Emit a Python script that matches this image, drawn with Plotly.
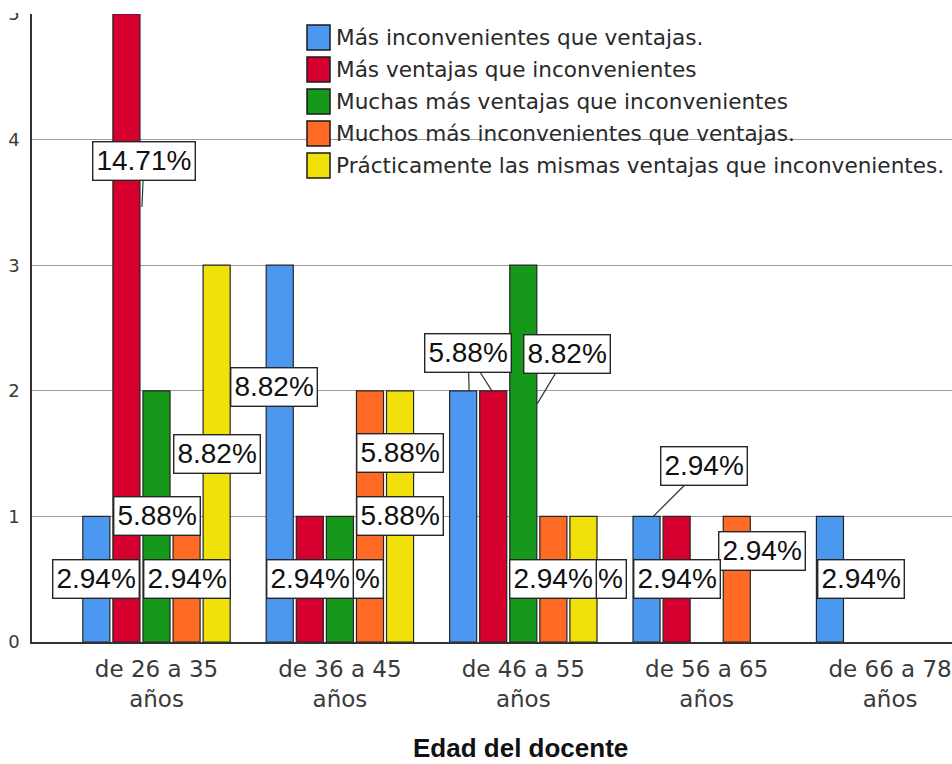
import plotly.graph_objects as go

# ---------------- data ----------------
categories = ["de 26 a 35<br>años", "de 36 a 45<br>años", "de 46 a 55<br>años",
              "de 56 a 65<br>años", "de 66 a 78<br>años"]
series_names = ["Más inconvenientes que ventajas.",
                "Más ventajas que inconvenientes",
                "Muchas más ventajas que inconvenientes",
                "Muchos más inconvenientes que ventajas.",
                "Prácticamente las mismas ventajas que inconvenientes."]
mas_inconvenientes = [1, 3, 2, 1, 1]
mas_ventajas = [5, 1, 2, 1, 0]
muchas_mas_ventajas = [2, 1, 3, 0, 0]
muchos_mas_inconvenientes = [1, 2, 1, 1, 0]
practicamente_iguales = [3, 2, 1, 0, 0]
y_tick_values = [0, 1, 2, 3, 4, 5]
x_title = "Edad del docente"

series_values = [mas_inconvenientes, mas_ventajas, muchas_mas_ventajas,
                 muchos_mas_inconvenientes, practicamente_iguales]
colors = ["#4C98F0", "#D5002E", "#16991A", "#FF6B24", "#F0E10A"]

# ---------------- layout geometry ----------------
W, H = 952, 764
ML, MR, MT, MB = 32, 0, 14, 122
PW, PH = W - ML - MR, H - MT - MB
X_UNIT = 183.4              # px per category
X0 = -(156.5 - ML) / X_UNIT
X1 = X0 + PW / X_UNIT
Y0, Y1 = 0, 5
Y_UNIT = PH / (Y1 - Y0)
BARGAP, BARGROUPGAP = 0.18, 0.1
NS = len(series_values)
SLOT = (1 - BARGAP) / NS

def px_to_paper_x(px):
    return (px - ML) / PW

def px_to_paper_y(py):
    return (MT + PH - py) / PH

total = sum(sum(s) for s in series_values)
x_pos = list(range(len(categories)))

fig = go.Figure()
for name, vals, col in zip(series_names, series_values, colors):
    fig.add_trace(go.Bar(
        x=x_pos, y=[v if v else None for v in vals], name=name,
        marker=dict(color=col, line=dict(color="#262626", width=1.2)),
        showlegend=False, hoverinfo="skip"))

# ---------------- percentage labels ----------------
# pixel offsets of the label box from the bar midpoint; optional leader target
label_offsets = {
    (1, 0): dict(dx=17.5, dy=-167, tx=15.5, ty=-121),
    (0, 1): dict(dx=-6, dy=-67),
    (3, 1): dict(dx=30, dy=-63),
    (0, 2): dict(dx=5, dy=-163, tx=6, ty=-125),
    (1, 2): dict(dx=-25, dy=-163, tx=-1, ty=-125),
    (2, 2): dict(dx=44, dy=-100, tx=14, ty=-50),
    (0, 3): dict(dx=57, dy=-113, tx=6, ty=-62),
    (3, 3): dict(dx=25, dy=-28),
    (0, 4): dict(dx=31, dy=0),
}

annotations = []
label_font = dict(family="Liberation Sans, Arial, sans-serif", size=28, color="#111")
for i in range(len(categories)):
    for j in reversed(range(NS)):
        v = series_values[j][i]
        if not v:
            continue
        txt = f"{v / total * 100:.2f}%"
        bx = i + (j - (NS - 1) / 2) * SLOT
        by = v / 2
        off = label_offsets.get((j, i), {})
        dx, dy = off.get("dx", 0), off.get("dy", 0)
        common = dict(text=txt, font=label_font, bgcolor="white",
                      bordercolor="#262626", borderwidth=1.4, borderpad=3,
                      xref="x", yref="y")
        if "tx" in off:
            tx, ty = off["tx"], off["ty"]
            annotations.append(dict(
                x=bx + tx / X_UNIT, y=by - ty / Y_UNIT,
                ax=dx - tx, ay=dy - ty, showarrow=True, arrowhead=0,
                arrowwidth=1.2, arrowcolor="#333", **common))
        else:
            annotations.append(dict(
                x=bx + dx / X_UNIT, y=by - dy / Y_UNIT,
                showarrow=False, xanchor="center", yanchor="middle", **common))

# ---------------- custom legend ----------------
shapes = []
LEG_X, LEG_TOP, LEG_STEP, SW_W, SW_H = 307, 25, 32, 23, 25
for k, (name, col) in enumerate(zip(series_names, colors)):
    top = LEG_TOP + k * LEG_STEP
    shapes.append(dict(type="rect", xref="paper", yref="paper",
                       x0=px_to_paper_x(LEG_X), x1=px_to_paper_x(LEG_X + SW_W),
                       y0=px_to_paper_y(top + SW_H), y1=px_to_paper_y(top),
                       fillcolor=col, line=dict(color="#1a1a1a", width=1.5),
                       layer="above"))
    annotations.append(dict(text=name, xref="paper", yref="paper",
                            x=px_to_paper_x(334), y=px_to_paper_y(top + SW_H / 2),
                            xanchor="left", yanchor="middle", showarrow=False,
                            font=dict(family="DejaVu Sans, sans-serif", size=21.6,
                                      color="#2a2a2a")))

# cover the top of the clipped "5" tick label, as in the cropped original
shapes.append(dict(type="rect", xref="paper", yref="paper",
                   x0=px_to_paper_x(0), x1=px_to_paper_x(ML - 1.5),
                   y0=px_to_paper_y(13), y1=px_to_paper_y(0),
                   fillcolor="white", line=dict(width=0), layer="above"))

# axis title
annotations.append(dict(text=f"<b>{x_title}</b>", xref="paper", yref="paper",
                        x=px_to_paper_x(520), y=px_to_paper_y(748),
                        xanchor="center", yanchor="middle", showarrow=False,
                        font=dict(family="Liberation Sans, Arial, sans-serif",
                                  size=26, color="#111")))

fig.update_layout(
    width=W, height=H,
    margin=dict(l=ML, r=MR, t=MT, b=MB, pad=0),
    paper_bgcolor="white", plot_bgcolor="white",
    barmode="group", bargap=BARGAP, bargroupgap=BARGROUPGAP,
    showlegend=False,
    annotations=annotations, shapes=shapes,
    xaxis=dict(range=[X0, X1], tickmode="array", tickvals=x_pos, ticktext=categories,
               showgrid=False, zeroline=False, showline=True, linecolor="#333",
               linewidth=1.5, ticks="", ticklabelstandoff=6,
               tickfont=dict(family="DejaVu Sans, sans-serif", size=23, color="#3a3a3a")),
    yaxis=dict(range=[Y0, Y1], tickmode="array", tickvals=y_tick_values,
               showgrid=True, gridcolor="#9e9e9e", gridwidth=1.2,
               zeroline=False, showline=True, linecolor="#333", linewidth=1.5,
               ticks="", ticklabelstandoff=7,
               tickfont=dict(family="DejaVu Sans, sans-serif", size=18, color="#3a3a3a")),
)

fig.write_html("out.html",
               config={"displayModeBar": False},
               post_script="document.body.style.margin='0px';"
                           "document.body.style.overflow='hidden';")
